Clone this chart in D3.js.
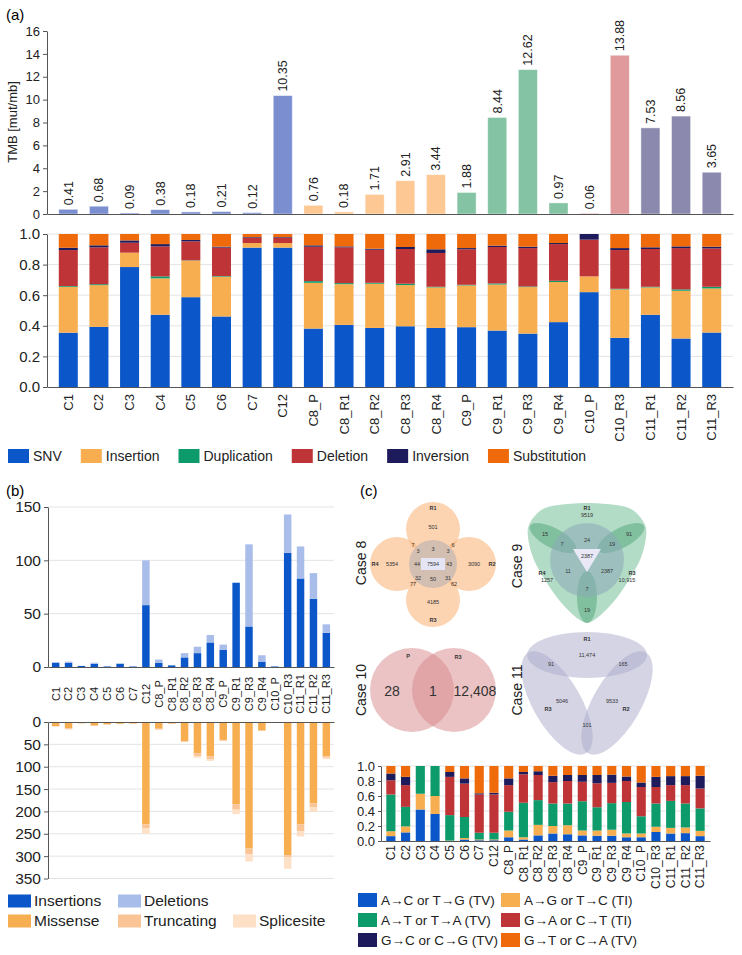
<!DOCTYPE html>
<html>
<head>
<meta charset="utf-8">
<script src="https://cdn.jsdelivr.net/npm/d3@7"></script>
<style>
  body { margin: 0; background: #fff; }
  svg { display: block; font-family: "Liberation Sans", Arial, sans-serif; }
  .axis path, .axis line { stroke: #555; }
  .axis text { fill: #222; }
  .grid line { stroke: #e4e4e4; }
</style>
</head>
<body>
<script>
// ---------- data ----------
var samples = ["C1","C2","C3","C4","C5","C6","C7","C12","C8_P","C8_R1","C8_R2","C8_R3","C8_R4",
               "C9_P","C9_R1","C9_R3","C9_R4","C10_P","C10_R3","C11_R1","C11_R2","C11_R3"];
var caseOf = ["single","single","single","single","single","single","single","single",
              "C8","C8","C8","C8","C8","C9","C9","C9","C9","C10","C10","C11","C11","C11"];

// (a) tumour mutational burden
var tmb = [0.41,0.68,0.09,0.38,0.18,0.21,0.12,10.35,0.76,0.18,1.71,2.91,3.44,
           1.88,8.44,12.62,0.97,0.06,13.88,7.53,8.56,3.65];

// (a) variant type fractions
var svTypes = ["SNV","Insertion","Duplication","Deletion","Inversion","Substitution"];
var svSNV = [0.355,0.393,0.784,0.472,0.587,0.461,0.911,0.911,0.382,0.406,0.386,0.397,0.386,0.391,0.369,0.349,0.424,0.62,0.321,0.472,0.317,0.356];
var svIns = [0.30,0.273,0.094,0.238,0.239,0.26,0.03,0.03,0.299,0.266,0.289,0.269,0.265,0.273,0.301,0.304,0.262,0.103,0.317,0.179,0.312,0.288];
var svDup = [0.005,0.006,0,0.013,0.002,0.004,0,0,0.011,0.007,0.006,0.009,0.004,0.004,0.007,0.004,0.008,0,0.004,0.004,0.009,0.011];
var svDel = [0.235,0.241,0.065,0.196,0.124,0.186,0.035,0.035,0.225,0.234,0.216,0.227,0.221,0.232,0.238,0.251,0.24,0.24,0.253,0.247,0.27,0.251];
var svInv = [0.015,0.013,0.015,0.015,0.009,0.006,0.004,0.004,0.009,0.006,0.007,0.013,0.024,0.008,0.009,0.009,0.007,0.037,0.013,0.011,0.011,0.011];
var svSub = [0.09,0.074,0.042,0.066,0.039,0.083,0.02,0.02,0.074,0.081,0.096,0.085,0.1,0.092,0.076,0.083,0.059,0,0.092,0.087,0.081,0.083];

// (b) indels (up) and coding variants (down)
var indelIns = [4,4,1,3,0.5,3,0.5,58,4,1.5,9,13,23,16,79,38,5,0.5,107,83,64,32];
var indelDel = [0.5,1,0,1,0,0.5,0.3,42,3,0,4,6,7,5,0,77,6,0,36,30,24,8];
var missense   = [9,14,3,8,5,4,3.5,229,15,3.5,43,70,77,40,184,283,19,2,298,229,182,77];
var truncating = [1,2,0,1,1,0.5,0.5,9,2,0.5,1.5,7,6,2,12,13,1,0,5,15,9,3];
var splicesite = [0,1,0,0,0,0,0,12,1,0,0,3,4,0,10,16,0,0,25,12,10,3];

// (c) venn counts
var case8Sets = ["R1","R2","R3","R4"];
var case8Counts = [501,3090,4185,5354,7,6,77,62,3,3,3,44,43,50,32,31,7594];
var case9Sets = ["R1","R3","R4"];
var case9Counts = [9519,10915,1257,15,91,19,7,19,7,24,11,2387,2387];
var case10Sets = ["P","R3"];
var case10Counts = [28,1,12408];
var case11Sets = ["R1","R2","R3"];
var case11Counts = [11474,9533,5046,165,91,101];

// (c) substitution spectrum
var subTypes = ["A\u2192C or T\u2192G (TV)","A\u2192G or T\u2192C (TI)","A\u2192T or T\u2192A (TV)",
                "G\u2192A or C\u2192T (TI)","G\u2192C or C\u2192G (TV)","G\u2192T or C\u2192A (TV)"];
var subAC = [0.065,0.115,0.42,0.36,0,0.02,0.01,0.01,0.05,0.02,0.075,0.1,0.09,0.075,0.07,0.07,0.05,0.05,0.12,0.1,0.105,0.065];
var subAG = [0.065,0.08,0.21,0.24,0.005,0.02,0.01,0.01,0.09,0.03,0.14,0.1,0.12,0.065,0.07,0.08,0.05,0.05,0.07,0.075,0.075,0.07];
var subAT = [0.49,0.26,0.37,0.40,0.34,0.28,0.09,0.09,0.25,0.46,0.33,0.3,0.29,0.39,0.31,0.355,0.42,0.23,0.31,0.36,0.32,0.30];
var subGA = [0.19,0.29,0,0,0.51,0.445,0.51,0.511,0.355,0.38,0.335,0.285,0.30,0.26,0.32,0.27,0.28,0.39,0.22,0.21,0.245,0.265];
var subGC = [0.09,0.11,0,0,0.065,0.07,0.016,0.022,0.09,0.03,0.05,0.085,0.08,0.09,0.11,0.11,0.06,0.06,0.135,0.12,0.12,0.17];
var subGT = [0.10,0.145,0,0,0.08,0.165,0.364,0.357,0.165,0.08,0.07,0.13,0.12,0.12,0.12,0.115,0.14,0.22,0.145,0.135,0.135,0.13];

// ---------- colours ----------
var caseColor = {single:"#7b8fd0", C8:"#fdc893", C9:"#84c3a3", C10:"#e09a9b", C11:"#8b8aae"};
var svColors = ["#0b57c9","#f7ae50","#0d9b6c","#bf3437","#1d1b5c","#ef6a0b"];
var indelColors = ["#0b57c9","#a9bdea"];
var codingColors = ["#f7ae50","#fbc497","#fde0c6"];
var subColors = ["#0b57c9","#f7ae50","#0d9b6c","#bf3437","#1d1b5c","#ef6a0b"];

var svg = d3.select("body").append("svg").attr("width", 742).attr("height", 955);
svg.append("rect").attr("width", 742).attr("height", 955).attr("fill", "#fff");

function fmtCount(v) { return v >= 10000 ? d3.format(",")(v) : String(v); }

function rowsFrom(keys, arrays) {
  return samples.map(function(s, i) {
    var r = {sample: s};
    keys.forEach(function(k, j) { r[k] = arrays[j][i]; });
    return r;
  });
}

function flowLegend(parent, names, colors, x0, yc, swW, swH, textDx, gap, fs) {
  var x = x0;
  names.forEach(function(n, i) {
    var item = parent.append("g").attr("transform", "translate(" + x + "," + yc + ")");
    item.append("rect").attr("y", -swH / 2).attr("width", swW).attr("height", swH).attr("fill", colors[i]);
    var t = item.append("text").attr("x", textDx).attr("dy", "0.35em")
      .style("font-size", fs + "px").attr("fill", "#222").text(n);
    x += textDx + t.node().getComputedTextLength() + gap;
  });
}

function gridLegend(parent, names, colors, xs, ys, swW, swH, textDx, fs) {
  names.forEach(function(n, i) {
    var item = parent.append("g").attr("transform", "translate(" + xs[i] + "," + ys[i] + ")");
    item.append("rect").attr("y", -swH / 2).attr("width", swW).attr("height", swH).attr("fill", colors[i]);
    item.append("text").attr("x", textDx).attr("dy", "0.35em")
      .style("font-size", fs + "px").attr("fill", "#222").text(n);
  });
}

function styleAxis(g, fs) {
  g.selectAll("text").style("font-size", fs + "px");
}

// ================= (a) =================
svg.append("text").attr("x", 6).attr("y", 20).style("font-size", "15px").text("(a)");

var xA = d3.scaleBand().domain(samples).range([47, 733]).paddingInner(0.38).paddingOuter(0.385);
var yTmb = d3.scaleLinear().domain([0, 16]).range([214, 31]);

svg.append("g").attr("class", "axis").attr("transform", "translate(47,0)")
  .call(d3.axisLeft(yTmb).tickValues(d3.range(0, 17, 2)).tickSize(4).tickSizeOuter(0))
  .call(styleAxis, 13);

svg.append("g").selectAll("rect").data(samples).join("rect")
  .attr("x", function(d) { return xA(d); })
  .attr("y", function(d, i) { return yTmb(tmb[i]); })
  .attr("width", xA.bandwidth())
  .attr("height", function(d, i) { return yTmb(0) - yTmb(tmb[i]); })
  .attr("fill", function(d, i) { return caseColor[caseOf[i]]; })
  .attr("stroke", "#fff").attr("stroke-opacity", 0.5).attr("stroke-width", 0.8);

svg.append("g").selectAll("text").data(samples).join("text")
  .attr("transform", function(d, i) {
    return "translate(" + (xA(d) + xA.bandwidth() / 2) + "," + (yTmb(tmb[i]) - 4) + ") rotate(-90)";
  })
  .attr("dy", "0.35em")
  .style("font-size", "12.5px").attr("fill", "#222")
  .text(function(d, i) { return tmb[i].toFixed(2); });

svg.append("g").attr("class", "axis").attr("transform", "translate(0,214)")
  .call(d3.axisBottom(xA).tickSize(0).tickSizeOuter(0).tickFormat(""));

svg.append("text").attr("transform", "translate(17,122) rotate(-90)")
  .attr("text-anchor", "middle").style("font-size", "13px").attr("fill", "#222").text("TMB [mut/mb]");

// stacked variant types
var yFrac = d3.scaleLinear().domain([0, 1]).range([387, 234]);
var fracTicks = [0, 0.2, 0.4, 0.6, 0.8, 1.0];

svg.append("g").attr("class", "grid").selectAll("line").data(fracTicks.slice(1)).join("line")
  .attr("x1", 47).attr("x2", 733)
  .attr("y1", function(d) { return yFrac(d); }).attr("y2", function(d) { return yFrac(d); });

var stackA = d3.stack().keys(svTypes)(rowsFrom(svTypes, [svSNV, svIns, svDup, svDel, svInv, svSub]));
svg.append("g").selectAll("g").data(stackA).join("g")
  .attr("fill", function(d, i) { return svColors[i]; })
  .selectAll("rect").data(function(d) { return d; }).join("rect")
  .attr("x", function(d) { return xA(d.data.sample); })
  .attr("y", function(d) { return yFrac(d[1]); })
  .attr("width", xA.bandwidth())
  .attr("height", function(d) { return Math.max(0, yFrac(d[0]) - yFrac(d[1])); });

svg.append("g").attr("class", "axis").attr("transform", "translate(47,0)")
  .call(d3.axisLeft(yFrac).tickValues(fracTicks).tickFormat(d3.format(".1f")).tickSize(4).tickSizeOuter(0))
  .call(styleAxis, 15);

svg.append("g").attr("class", "axis").attr("transform", "translate(0,387)")
  .call(d3.axisBottom(xA).tickSize(0).tickSizeOuter(0))
  .call(function(g) {
    g.selectAll("text").style("font-size", "13px")
      .attr("transform", "rotate(-90)").attr("text-anchor", "end")
      .attr("x", -7).attr("y", 0).attr("dy", "0.35em");
  });

flowLegend(svg.append("g"), svTypes, svColors, 8, 456, 21, 14, 25, 19, 14);

// ================= (b) =================
svg.append("text").attr("x", 6).attr("y", 496).style("font-size", "15px").text("(b)");

var xB = d3.scaleBand().domain(samples).range([48, 334]).paddingInner(0.42).paddingOuter(0.305);
var yUp = d3.scaleLinear().domain([0, 150]).range([667, 507]);
var yDown = d3.scaleLinear().domain([0, 350]).range([722, 878.5]);

svg.append("g").attr("class", "grid").selectAll("line").data([50, 100, 150]).join("line")
  .attr("x1", 48).attr("x2", 334)
  .attr("y1", function(d) { return yUp(d); }).attr("y2", function(d) { return yUp(d); });
svg.append("g").attr("class", "grid").selectAll("line").data(d3.range(50, 351, 50)).join("line")
  .attr("x1", 48).attr("x2", 334)
  .attr("y1", function(d) { return yDown(d); }).attr("y2", function(d) { return yDown(d); });

var indelKeys = ["Insertions", "Deletions"];
var stackUp = d3.stack().keys(indelKeys)(rowsFrom(indelKeys, [indelIns, indelDel]));
svg.append("g").selectAll("g").data(stackUp).join("g")
  .attr("fill", function(d, i) { return indelColors[i]; })
  .selectAll("rect").data(function(d) { return d; }).join("rect")
  .attr("x", function(d) { return xB(d.data.sample); })
  .attr("y", function(d) { return yUp(d[1]); })
  .attr("width", xB.bandwidth())
  .attr("height", function(d) { return Math.max(0, yUp(d[0]) - yUp(d[1])); });

var codingKeys = ["Missense", "Truncating", "Splicesite"];
var stackDown = d3.stack().keys(codingKeys)(rowsFrom(codingKeys, [missense, truncating, splicesite]));
svg.append("g").selectAll("g").data(stackDown).join("g")
  .attr("fill", function(d, i) { return codingColors[i]; })
  .selectAll("rect").data(function(d) { return d; }).join("rect")
  .attr("x", function(d) { return xB(d.data.sample); })
  .attr("y", function(d) { return yDown(d[0]); })
  .attr("width", xB.bandwidth())
  .attr("height", function(d) { return Math.max(0, yDown(d[1]) - yDown(d[0])); });

svg.append("g").attr("class", "axis").attr("transform", "translate(48,0)")
  .call(d3.axisLeft(yUp).tickValues([0, 50, 100, 150]).tickSize(4).tickSizeOuter(0))
  .call(styleAxis, 15.5);
svg.append("g").attr("class", "axis").attr("transform", "translate(48,0)")
  .call(d3.axisLeft(yDown).tickValues(d3.range(0, 351, 50)).tickSize(4).tickSizeOuter(0))
  .call(styleAxis, 15.5);

svg.append("g").attr("class", "axis").attr("transform", "translate(0,667)")
  .call(d3.axisBottom(xB).tickSize(0).tickSizeOuter(0))
  .call(function(g) {
    g.selectAll("text").style("font-size", "11px")
      .attr("transform", "rotate(-90)").attr("text-anchor", "middle")
      .attr("x", -27).attr("y", 0).attr("dy", "0.35em");
  });
svg.append("g").attr("class", "axis").attr("transform", "translate(0,722)")
  .call(d3.axisTop(xB).tickSize(0).tickSizeOuter(0).tickFormat(""));

gridLegend(svg.append("g"), indelKeys.concat(codingKeys), indelColors.concat(codingColors),
  [8, 118, 8, 118, 233], [901, 901, 921, 921, 921], 23, 13, 26, 15.5);

// ================= (c) venns =================
svg.append("text").attr("x", 360).attr("y", 496).style("font-size", "15px").text("(c)");

function caseLabel(x, y, txt) {
  svg.append("text").attr("transform", "translate(" + x + "," + y + ") rotate(-90)")
    .attr("text-anchor", "middle").attr("dy", "0.35em")
    .style("font-size", "14px").attr("fill", "#222").text(txt);
}
function vennText(g, cx, cy, texts, pos, fs, bold) {
  g.append("g").selectAll("text").data(texts).join("text")
    .attr("x", function(d, i) { return cx + pos[i][0]; })
    .attr("y", function(d, i) { return cy + pos[i][1]; })
    .attr("text-anchor", "middle").attr("dy", "0.35em")
    .style("font-size", fs + "px").style("font-weight", bold ? "bold" : "normal")
    .attr("fill", "#333").text(function(d) { return d; });
}

// Case 8 - four circles around a shared core
var v8 = svg.append("g"), c8x = 433, c8y = 564;
var ring8 = [[0, -35], [36, 0], [0, 36], [-36, 0]];
v8.selectAll("circle.set").data(case8Sets).join("circle")
  .attr("cx", function(d, i) { return c8x + ring8[i][0]; })
  .attr("cy", function(d, i) { return c8y + ring8[i][1]; })
  .attr("r", 27).attr("fill", "#f9b072").attr("fill-opacity", 0.55);
v8.append("circle").attr("cx", c8x).attr("cy", c8y).attr("r", 24).attr("fill", "#d3bfb2");
v8.append("rect").attr("x", c8x - 12).attr("y", c8y - 6).attr("width", 24).attr("height", 12).attr("fill", "#e4e6f6");
vennText(v8, c8x, c8y, case8Counts.map(fmtCount),
  [[0,-37],[41,0],[0,38],[-41,0],[-20,-19],[20,-19],[-20,20],[21,20],[-15,-13],[0,-15],[15,-13],
   [-16,0],[16,0],[0,15],[-15,14],[15,14],[0,0]], 5.5, false);
vennText(v8, c8x, c8y, case8Sets, [[0,-56],[59,0],[0,56],[-58,0]], 5.5, true);
caseLabel(361, 563, "Case 8");

// Case 9 - three outer sets and a centre sample
var v9 = svg.append("g"), c9x = 587, c9y = 560;
var hull9 = [[-59,-32],[-42,-52],[0,-57],[42,-52],[59,-32],[53,0],[28,40],[0,63],[-28,40],[-53,0]];
v9.append("path")
  .attr("d", d3.line().curve(d3.curveCardinalClosed.tension(0.2))(hull9.map(function(p) { return [c9x + p[0], c9y + p[1]]; })))
  .attr("fill", "#b3dcc6");
var lobes9 = [[-34, -22, 26, 10, 28], [34, -22, 26, 10, -28], [0, 37, 10, 26, 0]];
v9.selectAll("ellipse").data(lobes9).join("ellipse")
  .attr("transform", function(d) { return "translate(" + (c9x + d[0]) + "," + (c9y + d[1]) + ") rotate(" + d[4] + ")"; })
  .attr("rx", function(d) { return d[2]; }).attr("ry", function(d) { return d[3]; })
  .attr("fill", "#5fae83").attr("fill-opacity", 0.6);
v9.append("circle").attr("cx", c9x).attr("cy", c9y).attr("r", 37).attr("fill", "#8aa9b8").attr("fill-opacity", 0.55);
v9.append("path").attr("d", "M" + (c9x - 14) + "," + (c9y - 11) + "L" + (c9x + 14) + "," + (c9y - 11) + "L" + c9x + "," + (c9y + 12) + "Z")
  .attr("fill", "#e8e8f6");
vennText(v9, c9x, c9y, case9Counts.map(fmtCount),
  [[0,-45],[40,20],[-40,20],[-42,-26],[42,-26],[0,50],[-25,-16],[25,-16],[0,29],[0,-20],[-19,11],[20,11],[0,-4]], 5.5, false);
vennText(v9, c9x, c9y, case9Sets, [[0,-52],[45,13],[-45,13]], 5.5, true);
caseLabel(517, 566, "Case 9");

// Case 10 - two samples
var v10 = svg.append("g"), c10y = 690;
v10.selectAll("circle").data(case10Sets).join("circle")
  .attr("cx", function(d, i) { return 412 + i * 42; }).attr("cy", c10y).attr("r", 42)
  .attr("fill", "#d7888a").attr("fill-opacity", 0.5);
vennText(v10, 433, c10y, case10Counts.map(fmtCount), [[-41,1],[0,1],[42,1]], 14, false);
vennText(v10, 433, c10y, case10Sets, [[-25,-34],[25,-33]], 5.5, true);
caseLabel(361, 690, "Case 10");

// Case 11 - three samples
var v11 = svg.append("g"), c11x = 587, c11y = 690;
var ell11 = [[0, -35, 60, 23, 0], [30, 13, 58, 24, -60], [-30, 13, 58, 24, 60]];
v11.selectAll("ellipse").data(case11Sets).join("ellipse")
  .attr("transform", function(d, i) { var e = ell11[i]; return "translate(" + (c11x + e[0]) + "," + (c11y + e[1]) + ") rotate(" + e[4] + ")"; })
  .attr("rx", function(d, i) { return ell11[i][2]; }).attr("ry", function(d, i) { return ell11[i][3]; })
  .attr("fill", "#a9a9cc").attr("fill-opacity", 0.5);
vennText(v11, c11x, c11y, case11Counts.map(fmtCount),
  [[0,-35],[25,11],[-25,11],[36,-26],[-36,-26],[0,35]], 5.5, false);
vennText(v11, c11x, c11y, case11Sets, [[0,-51],[39,19],[-39,19]], 5.5, true);
caseLabel(517, 690, "Case 11");

// ================= (c) spectrum =================
var xC = d3.scaleBand().domain(samples).range([381, 710]).paddingInner(0.38).paddingOuter(0.36);
var yC = d3.scaleLinear().domain([0, 1]).range([841, 766]);

svg.append("g").attr("class", "grid").selectAll("line").data(fracTicks.slice(1)).join("line")
  .attr("x1", 381).attr("x2", 710)
  .attr("y1", function(d) { return yC(d); }).attr("y2", function(d) { return yC(d); });

var stackC = d3.stack().keys(subTypes)(rowsFrom(subTypes, [subAC, subAG, subAT, subGA, subGC, subGT]));
svg.append("g").selectAll("g").data(stackC).join("g")
  .attr("fill", function(d, i) { return subColors[i]; })
  .selectAll("rect").data(function(d) { return d; }).join("rect")
  .attr("x", function(d) { return xC(d.data.sample); })
  .attr("y", function(d) { return yC(d[1]); })
  .attr("width", xC.bandwidth())
  .attr("height", function(d) { return Math.max(0, yC(d[0]) - yC(d[1])); });

svg.append("g").attr("class", "axis").attr("transform", "translate(381,0)")
  .call(d3.axisLeft(yC).tickValues(fracTicks).tickFormat(d3.format(".1f")).tickSize(3).tickSizeOuter(0))
  .call(styleAxis, 13);
svg.append("g").attr("class", "axis").attr("transform", "translate(0,841)")
  .call(d3.axisBottom(xC).tickSize(0).tickSizeOuter(0))
  .call(function(g) {
    g.selectAll("text").style("font-size", "12px")
      .attr("transform", "rotate(-90)").attr("text-anchor", "end")
      .attr("x", -4).attr("y", 0).attr("dy", "0.35em");
  });

gridLegend(svg.append("g"), subTypes, subColors,
  [358, 501, 358, 501, 358, 501], [900, 900, 920, 920, 940, 940], 19, 14, 23, 13.5);
</script>
</body>
</html>
